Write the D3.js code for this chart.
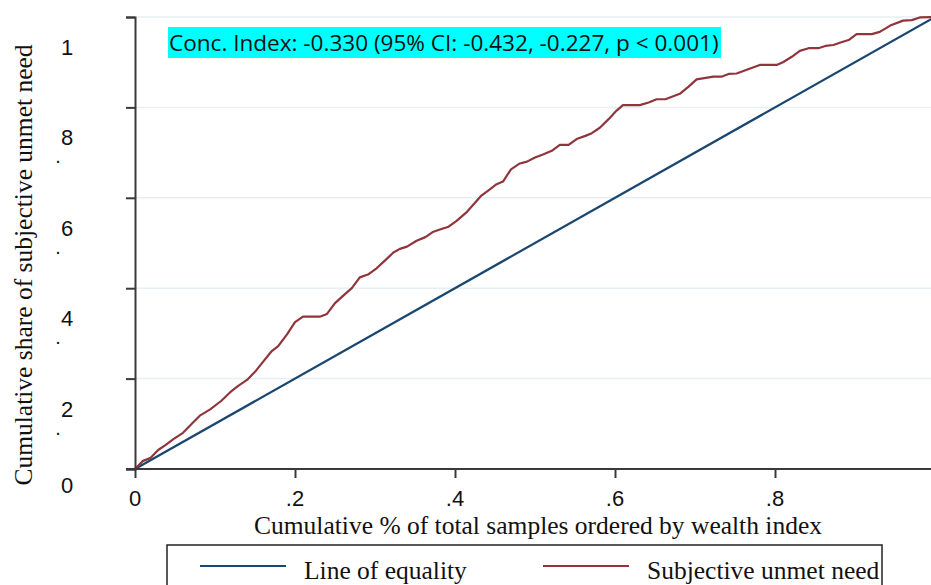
<!DOCTYPE html>
<html>
<head>
<meta charset="utf-8">
<script src="https://cdn.jsdelivr.net/npm/d3@7"></script>
<style>
  body { margin: 0; background: #fff; }
  svg { display: block; }
</style>
</head>
<body>
<div id="chart"></div>
<script>
// cumulative share of samples (x) and of subjective unmet need (y)
var cumSamples = [0, 0.010, 0.019, 0.029, 0.038, 0.048, 0.060, 0.071, 0.081, 0.094,
  0.108, 0.121, 0.129, 0.140, 0.150, 0.160, 0.171, 0.179, 0.190, 0.200,
  0.210, 0.231, 0.240, 0.250, 0.260, 0.271, 0.281, 0.292, 0.302, 0.313,
  0.323, 0.331, 0.340, 0.352, 0.363, 0.373, 0.383, 0.392, 0.402, 0.415,
  0.425, 0.433, 0.444, 0.452, 0.460, 0.470, 0.481, 0.490, 0.500, 0.510,
  0.521, 0.531, 0.542, 0.552, 0.563, 0.571, 0.581, 0.592, 0.602, 0.610,
  0.631, 0.642, 0.652, 0.663, 0.672, 0.681, 0.692, 0.702, 0.723, 0.733,
  0.742, 0.752, 0.769, 0.781, 0.802, 0.810, 0.821, 0.831, 0.842, 0.854,
  0.863, 0.873, 0.881, 0.892, 0.902, 0.921, 0.931, 0.944, 0.960, 0.971,
  0.981, 1.0];
var cumNeed = [0, 0.018, 0.024, 0.042, 0.053, 0.066, 0.080, 0.100, 0.118, 0.132,
  0.151, 0.173, 0.184, 0.197, 0.215, 0.237, 0.261, 0.272, 0.298, 0.325,
  0.337, 0.337, 0.343, 0.367, 0.383, 0.400, 0.424, 0.431, 0.444, 0.462,
  0.479, 0.487, 0.492, 0.505, 0.513, 0.525, 0.531, 0.536, 0.549, 0.569,
  0.589, 0.605, 0.619, 0.630, 0.636, 0.663, 0.676, 0.680, 0.689, 0.696,
  0.704, 0.717, 0.717, 0.730, 0.737, 0.743, 0.755, 0.774, 0.793, 0.805,
  0.805, 0.811, 0.818, 0.818, 0.824, 0.830, 0.846, 0.862, 0.868, 0.868,
  0.874, 0.875, 0.886, 0.894, 0.894, 0.900, 0.912, 0.925, 0.931, 0.931,
  0.936, 0.938, 0.943, 0.949, 0.962, 0.962, 0.967, 0.981, 0.992, 0.993,
  0.999, 1.0];
var equality = [0, 1];
var xTicks = [0, 0.2, 0.4, 0.6, 0.8];
var xTickLabels = ['0', '.2', '.4', '.6', '.8'];
var yTicks = [0, 0.2, 0.4, 0.6, 0.8, 1];
var yTickLabels = ['0', '2', '4', '6', '8', '1'];
var annotation = 'Conc. Index: -0.330 (95% CI: -0.432, -0.227, p < 0.001)';
var legendLabels = ['Line of equality', 'Subjective unmet need'];

var W = 931, H = 585;
var m = { left: 135, top: 17, right: -4, bottom: 116 };
var w = W - m.left - m.right, h = H - m.top - m.bottom;

var navy = '#1a476f', maroon = '#90353b', axisCol = '#3a3a3a';
var serif = 'Liberation Serif, Times New Roman, serif';
var sans = 'Liberation Sans, Arial, sans-serif';

var svg = d3.select('#chart').append('svg')
  .attr('width', W)
  .attr('height', H);

var g = svg.append('g')
  .attr('transform', 'translate(' + m.left + ',' + m.top + ')');

var xScale = d3.scaleLinear().domain([0, 1]).range([0, w]);
var yScale = d3.scaleLinear().domain([0, 1]).range([h, 0]);

// grid
g.selectAll('.grid').data(yTicks.slice(1)).enter().append('line')
  .attr('class', 'grid')
  .attr('x1', 0).attr('x2', w)
  .attr('y1', function (d) { return yScale(d); })
  .attr('y2', function (d) { return yScale(d); })
  .attr('stroke', '#e6eff1')
  .attr('stroke-width', 1.5);

var line = d3.line()
  .x(function (d) { return xScale(d[0]); })
  .y(function (d) { return yScale(d[1]); });

// equality line
g.append('path')
  .datum(equality.map(function (v) { return [v, v]; }))
  .attr('d', line)
  .attr('fill', 'none')
  .attr('stroke', navy)
  .attr('stroke-width', 2.2);

// concentration curve
g.append('path')
  .datum(cumSamples.map(function (v, i) { return [v, cumNeed[i]]; }))
  .attr('d', line)
  .attr('fill', 'none')
  .attr('stroke', maroon)
  .attr('stroke-width', 2.2)
  .attr('stroke-linejoin', 'round');

// axes
var yAxis = g.append('g')
  .call(d3.axisLeft(yScale).tickValues(yTicks).tickSize(9).tickFormat(''));
var xAxis = g.append('g')
  .attr('transform', 'translate(0,' + h + ')')
  .call(d3.axisBottom(xScale).tickValues(xTicks).tickSize(9).tickFormat(''));
[xAxis, yAxis].forEach(function (a) {
  a.select('.domain').attr('stroke', axisCol).attr('stroke-width', 2);
  a.selectAll('.tick line').attr('stroke', axisCol).attr('stroke-width', 2);
});
xAxis.select('.domain').attr('d', 'M-9,0H' + w);

// y tick labels (digit with the stray dot below it, as in the source)
g.selectAll('.ylab').data(yTicks).enter().append('text')
  .attr('class', 'ylab')
  .attr('x', -68)
  .attr('y', function (d) { return yScale(d) + (d === 0 ? 24 : 38); })
  .attr('text-anchor', 'middle')
  .attr('font-family', sans)
  .attr('font-size', 22)
  .attr('fill', '#111')
  .text(function (d, i) { return yTickLabels[i]; });

g.selectAll('.ydot').data(yTicks.filter(function (d) { return d > 0 && d < 1; }))
  .enter().append('text')
  .attr('class', 'ydot')
  .attr('x', -77)
  .attr('y', function (d) { return yScale(d) + 56; })
  .attr('text-anchor', 'middle')
  .attr('font-family', sans)
  .attr('font-size', 20)
  .attr('fill', '#111')
  .text('.');

// x tick labels
g.selectAll('.xlab').data(xTicks).enter().append('text')
  .attr('class', 'xlab')
  .attr('x', function (d) { return xScale(d); })
  .attr('y', h + 37)
  .attr('text-anchor', 'middle')
  .attr('font-family', sans)
  .attr('font-size', 22)
  .attr('fill', '#111')
  .text(function (d, i) { return xTickLabels[i]; });

// axis titles
svg.append('text')
  .attr('x', 538)
  .attr('y', 534)
  .attr('text-anchor', 'middle')
  .attr('font-family', serif)
  .attr('font-size', 25.5)
  .attr('fill', '#111')
  .text('Cumulative % of total samples ordered by wealth index');

svg.append('text')
  .attr('transform', 'translate(32,265) rotate(-90)')
  .attr('text-anchor', 'middle')
  .attr('font-family', serif)
  .attr('font-size', 25.5)
  .attr('fill', '#111')
  .text('Cumulative share of subjective unmet need');

// annotation box
svg.append('rect')
  .attr('x', 168).attr('y', 27)
  .attr('width', 553).attr('height', 31)
  .attr('fill', '#00ffff');
var ann = svg.append('text')
  .attr('x', 169)
  .attr('y', 51)
  .attr('font-family', 'Open Sans, Noto Sans, sans-serif')
  .attr('font-size', 20)
  .attr('fill', '#111')
  .text(annotation);
var aw = ann.node().getComputedTextLength();
ann.attr('font-size', 20 * 550 / aw);

// legend
svg.append('rect')
  .attr('x', 167).attr('y', 545)
  .attr('width', 715).attr('height', 60)
  .attr('fill', '#fff')
  .attr('stroke', '#222')
  .attr('stroke-width', 1.5);

var legendItems = [
  { x: 200, col: navy, label: legendLabels[0] },
  { x: 543, col: maroon, label: legendLabels[1] }
];
legendItems.forEach(function (d) {
  svg.append('line')
    .attr('x1', d.x).attr('x2', d.x + 86)
    .attr('y1', 566).attr('y2', 566)
    .attr('stroke', d.col)
    .attr('stroke-width', 2.2);
  svg.append('text')
    .attr('x', d.x + 104)
    .attr('y', 579)
    .attr('font-family', serif)
    .attr('font-size', 25.5)
    .attr('fill', '#111')
    .text(d.label);
});
</script>
</body>
</html>
